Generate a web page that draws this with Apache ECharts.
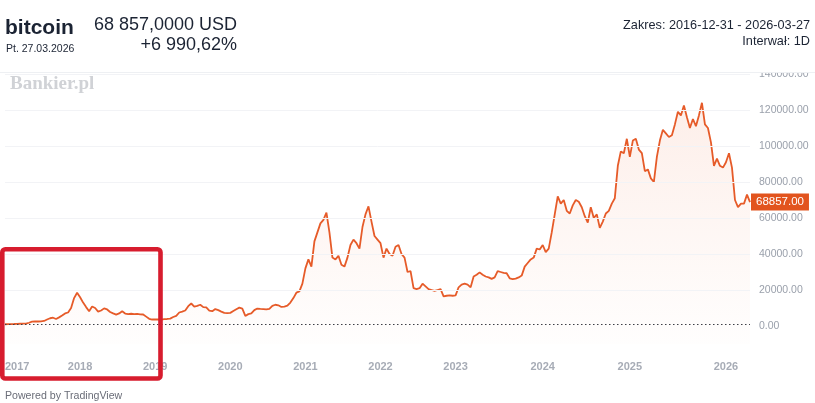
<!DOCTYPE html>
<html>
<head>
<meta charset="utf-8">
<script src="https://cdn.jsdelivr.net/npm/echarts@6/dist/echarts.min.js"></script>
<style>
html,body{margin:0;padding:0;background:#fff;}
#chart{width:815px;height:403px;}
</style>
</head>
<body>
<div id="chart"></div>
<script>
const years = ['2017','2018','2019','2020','2021','2022','2023','2024','2025','2026'];
const v2017 = [970,1000,1050,1100,1200,1250,1300,1300,1800,2400,2600,2500,2600,2800,3600,4300,4600,3900,4800,5800,7000,7500,10000,15500,18500];
const v2018 = [16000,13000,10500,8200,10800,10000,8000,8600,9800,9200,7800,7000,6300,7000,8200,6900,6600,6800,6600,6700,6500,6400,5200,4000,3600];
const v2019 = [3700,3600,3500,3800,3900,4100,5000,5600,7500,8000,8600,11000,12500,10800,11200,11800,10500,10300,8600,8200,9400,8800,8000,7300,7200];
const v2020 = [7300,8300,9300,10200,9600,5600,6600,7000,8800,9700,9500,9400,9200,9500,11200,11800,11500,10600,10800,11300,13000,15500,18500,19200,23500];
const v2021 = [32000,37000,33000,47000,52000,57000,59000,63000,52000,38000,37000,39000,34000,33000,38000,45000,48000,46000,43000,55000,62000,66500,58000,50000,48000];
const v2022 = [46000,38000,43000,40000,39000,44000,45000,40000,38000,30000,30500,21000,20500,21000,23500,22000,20500,20000,19500,20000,20500,16500,16800,17000,16800];
const v2023 = [17000,21500,23000,23500,23000,21500,27500,28500,29800,28500,27500,27000,26200,27000,30500,30000,29500,29300,26500,26000,26300,27000,28000,33000,35000,37000,38000,43000,42500];
const v2024 = [45000,41000,43000,52000,62000,72000,68000,70000,64000,62500,67000,70000,69000,66000,61000,57500,66000,60000,62000,54500,58000,62500,64000,68000,71000,89000,97000,96000,104000];
const v2025 = [94000,103000,104000,98000,96000,86000,87000,82000,80000,94000,103000,109000,107000,105000,106000,112000,119000,117000,122500,116000,110000,115000,111000,117000,124000,112000,110000,102000,89000,93000,89000,88000];
const v2026 = [91000,96000,88000,70000,66000,68000,68000,73000,68857];
const yTicks = [20000,40000,60000,80000,100000,120000,140000];

const yearValues = [v2017,v2018,v2019,v2020,v2021,v2022,v2023,v2024,v2025,v2026];
const categories = [];
const values = [];
years.forEach((y, k) => {
  yearValues[k].forEach((v, j) => {
    categories.push(y + '-' + String(j + 1).padStart(2, '0'));
    values.push(v);
  });
});
const lastValue = values[values.length - 1];
const startValue = values[0];

const chart = echarts.init(document.getElementById('chart'), null, {renderer: 'canvas'});

const markData = yTicks.map(t => ({
  yAxis: t,
  lineStyle: {color: '#f2f3f6', type: 'solid', width: 1},
  label: {show: false}
}));
markData.push({
  yAxis: startValue,
  lineStyle: {color: '#3d3f46', type: [1.5, 2.5], width: 1},
  label: {show: false}
});

const option = {
  animation: false,
  backgroundColor: '#ffffff',
  grid: {left: 5, right: 65, top: 74, bottom: 59},
  xAxis: {
    type: 'category',
    data: categories,
    boundaryGap: false,
    axisLine: {show: false},
    axisTick: {show: false},
    splitLine: {show: false},
    axisLabel: {
      interval: (idx, val) => idx === 0 || val.slice(0, 4) !== categories[idx - 1].slice(0, 4),
      formatter: v => v.slice(0, 4),
      color: '#a7acb6',
      fontSize: 11,
      fontWeight: 'bold',
      fontFamily: 'Liberation Sans',
      margin: 17,
      alignMinLabel: 'left'
    }
  },
  yAxis: {
    type: 'value',
    position: 'right',
    min: -10000,
    max: 140000,
    interval: 10000,
    axisLine: {show: false},
    axisTick: {show: false},
    splitLine: {show: false},
    axisLabel: {
      formatter: v => (v >= 0 && v % 20000 === 0) ? v.toFixed(2) : '',
      color: '#9aa0ab',
      fontSize: 10.5,
      fontFamily: 'Liberation Sans',
      margin: 9
    }
  },
  series: [{
    type: 'line',
    data: values,
    showSymbol: false,
    symbol: 'none',
    smooth: false,
    lineStyle: {color: '#e65b29', width: 1.8},
    areaStyle: {
      origin: 'start',
      color: new echarts.graphic.LinearGradient(0, 0, 0, 1, [
        {offset: 0, color: 'rgba(236,98,48,0.15)'},
        {offset: 1, color: 'rgba(236,98,48,0.01)'}
      ])
    },
    markLine: {
      silent: true,
      symbol: 'none',
      animation: false,
      data: markData
    }
  }, {
    type: 'line',
    data: [],
    silent: true,
    markLine: {
      silent: true,
      symbol: 'none',
      animation: false,
      data: [{
        yAxis: lastValue,
        lineStyle: {color: 'rgba(0,0,0,0)', width: 0},
        label: {
          show: true, position: 'end', distance: 1,
          formatter: lastValue.toFixed(2),
          color: '#ffffff', backgroundColor: '#e2541e',
          padding: [3, 5, 2, 5], fontSize: 11.5, fontFamily: 'Liberation Sans'
        }
      }]
    }
  }],
  graphic: [
    {type: 'rect', z: 50, shape: {x: 0, y: 0, width: 815, height: 72.5}, style: {fill: '#ffffff'}},
    {type: 'line', z: 51, shape: {x1: 0, y1: 72.5, x2: 815, y2: 72.5}, style: {stroke: '#eef0f3', lineWidth: 1}},
    {type: 'text', z: 60, style: {text: 'bitcoin', x: 5, y: 28, font: 'bold 21px "Liberation Sans"', fill: '#1b2333', textVerticalAlign: 'middle'}},
    {type: 'text', z: 60, style: {text: 'Pt. 27.03.2026', x: 6, y: 49.5, font: '10.5px "Liberation Sans"', fill: '#1b2333', textVerticalAlign: 'middle'}},
    {type: 'text', z: 60, style: {text: '68 857,0000 USD', x: 237, y: 25, font: '18px "Liberation Sans"', fill: '#1b2333', textAlign: 'right', textVerticalAlign: 'middle'}},
    {type: 'text', z: 60, style: {text: '+6 990,62%', x: 237, y: 45, font: '18px "Liberation Sans"', fill: '#1b2333', textAlign: 'right', textVerticalAlign: 'middle'}},
    {type: 'text', z: 60, style: {text: 'Zakres: 2016-12-31 - 2026-03-27', x: 810, y: 25.5, font: '12.7px "Liberation Sans"', fill: '#1b2333', textAlign: 'right', textVerticalAlign: 'middle'}},
    {type: 'text', z: 60, style: {text: 'Interwał: 1D', x: 810, y: 41.5, font: '12.7px "Liberation Sans"', fill: '#1b2333', textAlign: 'right', textVerticalAlign: 'middle'}},
    {type: 'text', z: 60, style: {text: 'Bankier.pl', x: 10, y: 84, font: 'bold 19px "Liberation Serif"', fill: '#d0d2d6', textVerticalAlign: 'middle'}},
    {type: 'text', z: 60, style: {text: 'Powered by TradingView', x: 5, y: 396.5, font: '10.6px "Liberation Sans"', fill: '#6a6d78', textVerticalAlign: 'middle'}},
    {type: 'rect', z: 70, shape: {x: 2.3, y: 249.3, width: 158.2, height: 129.2, r: 3}, style: {fill: 'none', stroke: '#d71c2e', lineWidth: 4.6}}
  ]
};
chart.setOption(option);
</script>
</body>
</html>
